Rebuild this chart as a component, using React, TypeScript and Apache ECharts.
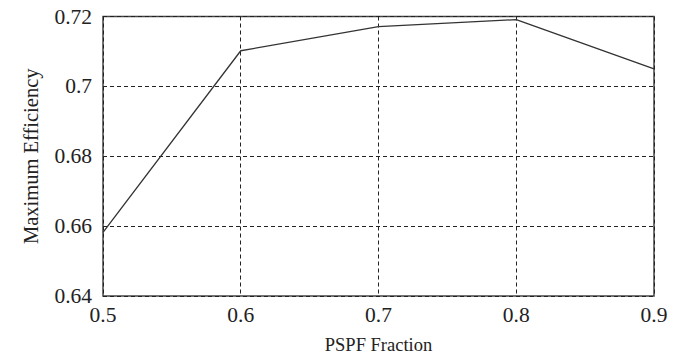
import React, { useEffect, useRef } from "react";
import * as echarts from "echarts";

const xValues = [0.5, 0.6, 0.7, 0.8, 0.9];
const efficiency = [0.6582, 0.7102, 0.7171, 0.7191, 0.705];
const xTicks = [0.5, 0.6, 0.7, 0.8, 0.9];
const yTicks = [0.64, 0.66, 0.68, 0.7, 0.72];

const FONT = "Times New Roman, Liberation Serif, serif";

export default function App() {
  const ref = useRef<HTMLDivElement>(null);
  useEffect(() => {
    if (!ref.current) return;
    const chart = echarts.init(ref.current, undefined, { renderer: "svg" });
    const data = xValues.map((x, i) => [x, efficiency[i]]);
    chart.setOption({
      animation: false,
      backgroundColor: "#ffffff",
      textStyle: { fontFamily: FONT },
      grid: {
        left: 103,
        top: 16.5,
        right: 25,
        bottom: 62,
        show: true,
        borderColor: "#444",
        borderWidth: 1.5,
        backgroundColor: "transparent",
      },
      xAxis: {
        type: "value",
        min: xTicks[0],
        max: xTicks[xTicks.length - 1],
        interval: 0.1,
        name: "PSPF Fraction",
        nameLocation: "middle",
        nameGap: 39,
        nameTextStyle: { fontFamily: FONT, fontSize: 18.5, color: "#222" },
        axisLine: { show: false },
        axisTick: { show: false },
        axisLabel: {
          fontFamily: FONT,
          fontSize: 21.5,
          color: "#222",
          margin: 8,
          formatter: (v: number) => String(Number(v.toFixed(2))),
        },
        splitLine: {
          show: true,
          lineStyle: { color: "#222", type: [4, 3], width: 1 },
        },
      },
      yAxis: {
        type: "value",
        min: yTicks[0],
        max: yTicks[yTicks.length - 1],
        interval: 0.02,
        name: "Maximum Efficiency",
        nameLocation: "middle",
        nameGap: 62,
        nameTextStyle: { fontFamily: FONT, fontSize: 20.5, color: "#222" },
        axisLine: { show: false },
        axisTick: { show: false },
        axisLabel: {
          fontFamily: FONT,
          fontSize: 21.5,
          color: "#222",
          margin: 11,
          formatter: (v: number) => String(Number(v.toFixed(2))),
        },
        splitLine: {
          show: true,
          lineStyle: { color: "#222", type: [4, 3], width: 1 },
        },
      },
      series: [
        {
          type: "line",
          data,
          symbol: "none",
          lineStyle: { color: "#333", width: 1.3 },
        },
      ],
    });
    return () => chart.dispose();
  }, []);
  return (
    <div
      ref={ref}
      style={{ position: "fixed", left: 0, top: 0, width: 679, height: 359 }}
    />
  );
}
